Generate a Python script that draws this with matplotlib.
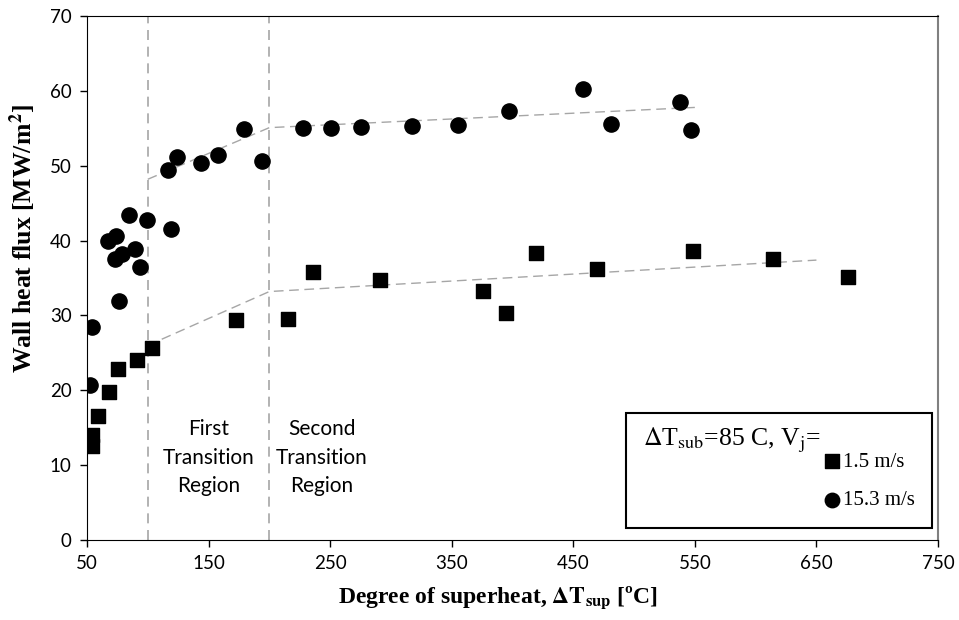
import matplotlib.pyplot as plt
from matplotlib.patches import Rectangle

plt.rcParams['mathtext.fontset'] = 'stix'

# 1.5 m/s jet (squares)
sq_x = [53.9, 53.9, 59.3, 68.4, 75.8, 90.9, 103.2, 172.5, 215.6, 236.2, 291.0,
        375.5, 394.7, 419.1, 469.2, 548.7, 614.3, 676.0]
sq_y = [14.0, 12.5, 16.6, 19.8, 22.9, 24.1, 25.7, 29.4, 29.5, 35.8, 34.8,
        33.3, 30.3, 38.4, 36.2, 38.6, 37.5, 35.2]

# 15.3 m/s jet (circles)
ci_x = [52.5, 54.4, 76.3, 73.0, 78.5, 67.5, 73.9, 84.8, 89.2, 93.6, 99.6,
        118.8, 116.9, 124.3, 143.5, 157.8, 179.1, 194.2, 227.9, 250.4, 275.4,
        317.7, 355.4, 397.4, 458.2, 481.2, 537.8, 546.5]
ci_y = [20.7, 28.5, 32.0, 37.6, 38.2, 40.0, 40.6, 43.4, 38.9, 36.5, 42.8,
        41.6, 49.5, 51.2, 50.4, 51.4, 54.9, 50.7, 55.0, 55.1, 55.2,
        55.3, 55.4, 57.3, 60.2, 55.6, 58.5, 54.8]

# piecewise trend lines
sq_fit_x = [100, 200, 650]
sq_fit_y = [26.0, 33.2, 37.4]
ci_fit_x = [100, 200, 550]
ci_fit_y = [48.2, 55.1, 57.8]

region_bounds = [100, 200]

fig = plt.figure(figsize=(9.59, 6.2), dpi=100)
ax = fig.add_axes([0.0907, 0.129, 0.8874, 0.845])

for xb in region_bounds:
    ax.plot([xb, xb], [0, 70], color='#a6a6a6', lw=1.2, ls=(0, (6, 4)), zorder=1)
ax.plot(sq_fit_x, sq_fit_y, color='#a6a6a6', lw=1.0, ls=(0, (7, 4)), zorder=1)
ax.plot(ci_fit_x, ci_fit_y, color='#a6a6a6', lw=1.0, ls=(0, (7, 4)), zorder=1)

ax.scatter(sq_x, sq_y, marker='s', s=100, color='black', zorder=3, label='1.5 m/s')
ax.scatter(ci_x, ci_y, marker='o', s=120, color='black', zorder=3, label='15.3 m/s')

ax.set_xlim(50, 750)
ax.set_ylim(0, 70)
ax.set_xticks(range(50, 751, 100))
ax.set_yticks(range(0, 71, 10))
for lab in ax.get_xticklabels() + ax.get_yticklabels():
    lab.set_fontfamily('Lato')
    lab.set_fontsize(13.5)
ax.tick_params(direction='out', length=5, width=1, pad=6)
ax.spines['top'].set_color('black')
ax.spines['right'].set_color('#808080')
ax.spines['right'].set_linewidth(1.5)

ax.set_xlabel(r'Degree of superheat, $\mathbf{\Delta T_{sup}}$ [ºC]',
              fontfamily='Liberation Serif', fontweight='bold', fontsize=17)
ax.set_ylabel(r'Wall heat flux [MW/m$\mathbf{^2}$]',
              fontfamily='Liberation Serif', fontweight='bold', fontsize=18.5)
ax.xaxis.set_label_coords(0.483, -0.085)
ax.yaxis.set_label_coords(-0.057, 0.575)

ax.text(150, 11, 'First\nTransition\nRegion', ha='center', va='center',
        fontfamily='Lato', fontsize=15, linespacing=1.55)
ax.text(243, 11, 'Second\nTransition\nRegion', ha='center', va='center',
        fontfamily='Lato', fontsize=15, linespacing=1.55)

# legend box
ax.add_patch(Rectangle((0.633, 0.023), 0.360, 0.219, transform=ax.transAxes,
                       fill=True, facecolor='white', edgecolor='black', lw=1.5, zorder=4))
ax.text(0.653, 0.191, r'$\Delta$T$_{\rm sub}$=85 C, V$_{\rm j}$=', transform=ax.transAxes,
        ha='left', va='center', fontfamily='Liberation Serif', fontsize=18.5, zorder=5)
leg = ax.legend(loc='center left', bbox_to_anchor=(0.865, 0.112), frameon=False,
                prop={'family': 'Liberation Serif', 'size': 15}, handletextpad=0.05,
                labelspacing=0.9, markerscale=0.95, handlelength=0.9,
                borderpad=0, borderaxespad=0)
leg.set_zorder(6)

fig.savefig('out.png', dpi=100)
